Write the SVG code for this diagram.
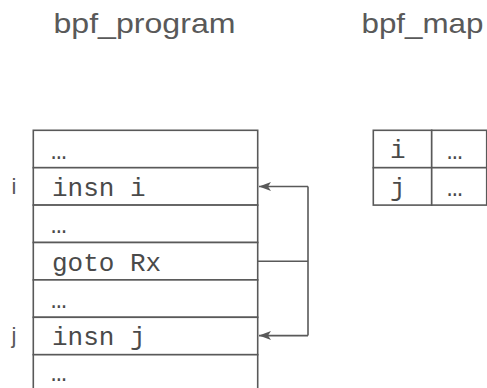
<svg xmlns="http://www.w3.org/2000/svg" width="487" height="388" viewBox="0 0 487 388">
  <style>
    .title { font-family: "Liberation Sans", Arial, sans-serif; font-size: 27.5px; fill: #595959; }
    .lbl { font-family: "Liberation Sans", Arial, sans-serif; font-size: 22px; fill: #595959; text-anchor: middle; }
    .mono { font-family: "Liberation Mono", "Courier New", monospace; font-size: 26px; fill: #4a4a4a; }
    .cell { fill: #ffffff; stroke: #595959; stroke-width: 1.6; }
    .conn { fill: none; stroke: #595959; stroke-width: 1.6; }
  </style>
  <defs>
    <marker id="arr" markerUnits="userSpaceOnUse" markerWidth="14" markerHeight="10" viewBox="-14 -5 14 10" refX="0" refY="0" orient="auto">
      <polygon points="0,0 -12,-4.5 -9,0 -12,4.5" fill="#595959"/>
    </marker>
  </defs>
  <rect width="487" height="388" fill="#ffffff"/>

  <g id="titles">
    <text class="title" x="53.5" y="33" textLength="182" lengthAdjust="spacingAndGlyphs">bpf_program</text>
    <text class="title" x="361.5" y="33" textLength="122" lengthAdjust="spacingAndGlyphs">bpf_map</text>
  </g>

  <g id="bpf_program">
    <g id="prog-row0"><rect class="cell" x="33.3" y="130.3" width="224.4" height="37.4"/><text class="mono" x="51" y="158.5">…</text></g>
    <g id="prog-row1"><rect class="cell" x="33.3" y="167.7" width="224.4" height="37.4"/><text class="mono" x="52" y="195.8">insn i</text></g>
    <g id="prog-row2"><rect class="cell" x="33.3" y="205.1" width="224.4" height="37.4"/><text class="mono" x="51" y="233.3">…</text></g>
    <g id="prog-row3"><rect class="cell" x="33.3" y="242.5" width="224.4" height="37.4"/><text class="mono" x="52" y="270.6">goto Rx</text></g>
    <g id="prog-row4"><rect class="cell" x="33.3" y="279.9" width="224.4" height="37.4"/><text class="mono" x="51" y="308.1">…</text></g>
    <g id="prog-row5"><rect class="cell" x="33.3" y="317.3" width="224.4" height="37.4"/><text class="mono" x="52" y="345.4">insn j</text></g>
    <g id="prog-row6"><rect class="cell" x="33.3" y="354.7" width="224.4" height="37.4"/><text class="mono" x="51" y="381">…</text></g>
  </g>

  <g id="labels">
    <text class="lbl" x="14" y="194.3">i</text>
    <text class="lbl" x="14" y="342.5">j</text>
  </g>

  <g id="bpf_map">
    <g id="map-row0">
      <rect class="cell" x="373.3" y="130.3" width="58.4" height="37.4"/>
      <rect class="cell" x="431.7" y="130.3" width="55" height="37.4"/>
      <text class="mono" x="390" y="158">i</text>
      <text class="mono" x="447" y="158.5">…</text>
    </g>
    <g id="map-row1">
      <rect class="cell" x="373.3" y="167.7" width="58.4" height="37.4"/>
      <rect class="cell" x="431.7" y="167.7" width="55" height="37.4"/>
      <text class="mono" x="390" y="195.5">j</text>
      <text class="mono" x="447" y="195.8">…</text>
    </g>
  </g>

  <g id="connectors">
    <polyline class="conn" points="257.7,261.2 308,261.2"/>
    <polyline class="conn" points="308,186.5 308,335.6"/>
    <polyline class="conn" points="308,186.5 259,186.5" marker-end="url(#arr)"/>
    <polyline class="conn" points="308,335.6 259,335.6" marker-end="url(#arr)"/>
  </g>
</svg>
